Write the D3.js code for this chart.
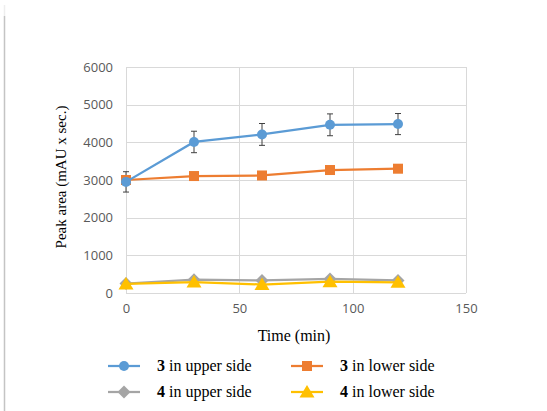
<!DOCTYPE html>
<html><head><meta charset="utf-8">
<script src="https://cdn.jsdelivr.net/npm/d3@7"></script>
<style>html,body{margin:0;padding:0;background:#fff;}svg{display:block;}</style>
</head><body>
<script>
const times = [0, 30, 60, 90, 120];
const upper3 = [2950, 4010, 4210, 4465, 4485];
const upper3Err = [270, 285, 290, 290, 280];
const lower3 = [3000, 3105, 3120, 3265, 3300];
const upper4 = [250, 355, 335, 375, 335];
const lower4 = [240, 290, 225, 300, 285];
const xTicks = [0, 50, 100, 150];
const yTicks = [0, 1000, 2000, 3000, 4000, 5000, 6000];
const seriesNames = ["3 in upper side", "3 in lower side", "4 in upper side", "4 in lower side"];
const colors = ["#5B9BD5", "#ED7D31", "#A5A5A5", "#FFC000"];

const W = 547, H = 411;
const svg = d3.select("body").append("svg").attr("width", W).attr("height", H);

svg.append("line").attr("x1", 4.5).attr("x2", 4.5).attr("y1", 5).attr("y2", 16).attr("stroke", "#eeeeee").attr("stroke-width", 1.5);
svg.append("line").attr("x1", 4.5).attr("x2", 4.5).attr("y1", 16).attr("y2", 411).attr("stroke", "#c4c4c4").attr("stroke-width", 1.5);

const x = d3.scaleLinear().domain([0, 150]).range([126, 466]);
const y = d3.scaleLinear().domain([0, 6000]).range([293, 67]);

const grid = svg.append("g");
grid.selectAll(".hg").data(yTicks).join("line")
  .attr("x1", x(0)).attr("x2", x(150)).attr("y1", d => Math.round(y(d)) + 0.5).attr("y2", d => Math.round(y(d)) + 0.5)
  .attr("stroke", "#d9d9d9").attr("stroke-width", 1);
grid.selectAll(".vg").data(xTicks).join("line")
  .attr("y1", y(0)).attr("y2", y(6000)).attr("x1", d => Math.round(x(d)) + 0.5).attr("x2", d => Math.round(x(d)) + 0.5)
  .attr("stroke", "#d9d9d9").attr("stroke-width", 1);

const tickFont = "'Open Sans', 'Liberation Sans', sans-serif";
const yAxis = svg.append("g").attr("transform", `translate(${x(0)},0)`)
  .call(d3.axisLeft(y).tickValues(yTicks).tickSize(0).tickPadding(13).tickFormat(d3.format("d")));
yAxis.select(".domain").remove();
yAxis.selectAll("text").attr("font-family", tickFont).attr("font-size", 13).attr("fill", "#595959");

const xAxis = svg.append("g").attr("transform", `translate(0,${y(0)})`)
  .call(d3.axisBottom(x).tickValues(xTicks).tickSize(0).tickPadding(11).tickFormat(d3.format("d")));
xAxis.select(".domain").remove();
xAxis.selectAll("text").attr("font-family", tickFont).attr("font-size", 13).attr("fill", "#595959");

const serif = "'Liberation Serif', 'Times New Roman', serif";
svg.append("text").attr("transform", `translate(66,177) rotate(-90)`).attr("text-anchor", "middle")
  .attr("font-family", serif).attr("font-size", 15).attr("fill", "#000")
  .text("Peak area (mAU x sec.)");
svg.append("text").attr("x", 294).attr("y", 341).attr("text-anchor", "middle")
  .attr("font-family", serif).attr("font-size", 16).attr("fill", "#000")
  .text("Time (min)");

const line = d3.line().x(d => x(d[0])).y(d => y(d[1]));
const allSeries = [upper3, lower3, upper4, lower4];
const drawOrder = [2, 3, 1, 0];

function marker(g, type, cx, cy, color) {
  if (type === 0) g.append("circle").attr("cx", cx).attr("cy", cy).attr("r", 5).attr("fill", color);
  else if (type === 1) g.append("rect").attr("x", cx - 5).attr("y", cy - 5).attr("width", 10).attr("height", 10).attr("fill", color);
  else if (type === 2) g.append("path").attr("d", `M${cx},${cy-6.5}L${cx+6.5},${cy}L${cx},${cy+6.5}L${cx-6.5},${cy}Z`).attr("fill", color);
  else g.append("path").attr("d", `M${cx},${cy-7}L${cx+7.5},${cy+5.5}L${cx-7.5},${cy+5.5}Z`).attr("fill", color);
}

const eb = svg.append("g");
times.forEach((t, i) => {
  const cx = x(t), top = y(upper3[i] + upper3Err[i]), bot = y(upper3[i] - upper3Err[i]);
  eb.append("line").attr("x1", cx).attr("x2", cx).attr("y1", top).attr("y2", bot).attr("stroke", "#404040").attr("stroke-width", 1);
  eb.append("line").attr("x1", cx - 3).attr("x2", cx + 3).attr("y1", top).attr("y2", top).attr("stroke", "#404040").attr("stroke-width", 1);
  eb.append("line").attr("x1", cx - 3).attr("x2", cx + 3).attr("y1", bot).attr("y2", bot).attr("stroke", "#404040").attr("stroke-width", 1);
});

drawOrder.forEach(k => {
  const data = times.map((t, i) => [t, allSeries[k][i]]);
  const g = svg.append("g");
  g.append("path").datum(data).attr("d", line).attr("fill", "none").attr("stroke", colors[k]).attr("stroke-width", 2.25);
  data.forEach(d => marker(g, k, x(d[0]), y(d[1]), colors[k]));
});

const legPos = [[108, 366], [291, 366], [108, 392], [291, 392]];
seriesNames.forEach((name, k) => {
  const [lx, ly] = legPos[k];
  const g = svg.append("g");
  g.append("line").attr("x1", lx).attr("x2", lx + 32).attr("y1", ly).attr("y2", ly).attr("stroke", colors[k]).attr("stroke-width", 2.25);
  marker(g, k, lx + 16, ly, colors[k]);
  const parts = name.split(" ");
  const t = g.append("text").attr("x", lx + 49).attr("y", ly + 5)
    .attr("font-family", serif).attr("font-size", 16).attr("fill", "#000");
  t.append("tspan").attr("font-weight", "bold").text(parts[0]);
  t.append("tspan").text(" " + parts.slice(1).join(" "));
});
</script>
</body></html>
